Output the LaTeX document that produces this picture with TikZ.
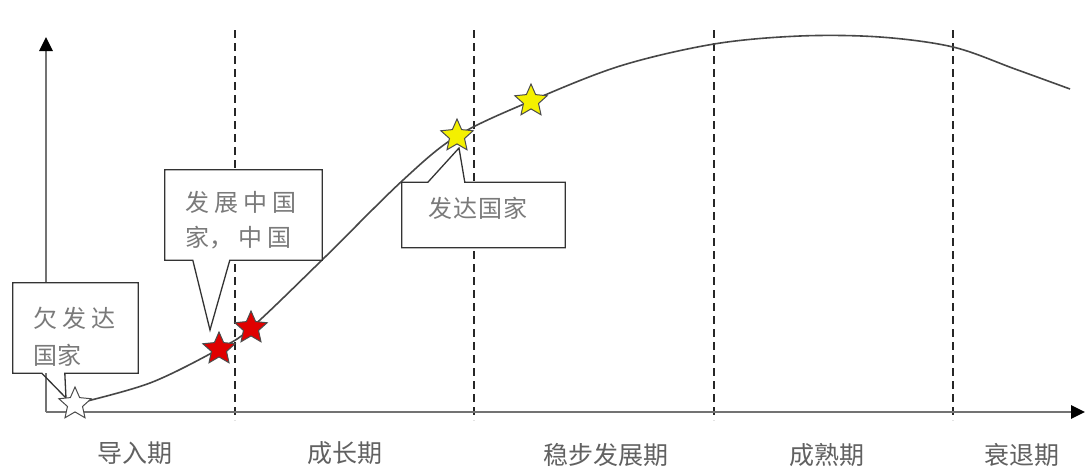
\documentclass[tikz,border=0pt]{standalone}
\usepackage{fontspec}
\newfontfamily\cjk{Noto Sans CJK SC}
\usetikzlibrary{shapes.geometric,arrows.meta,calc}
\newcommand{\cgap}[1]{\hspace{#1pt}}
\definecolor{starred}{HTML}{E00000}
\definecolor{staryellow}{HTML}{F4F000}
\begin{document}
\begin{tikzpicture}[x=1pt,y=-1pt,
  axisline/.style={draw=black!55, line width=2.6pt, -{Triangle[length=14pt,width=13pt,color=black]}},
  divider/.style={draw=black!85, line width=1.2pt, dash pattern=on 8pt off 5pt},
  curveline/.style={draw=black!72, line width=1.6pt},
  callbox/.style={fill=white, rectangle, inner sep=0pt},
  calloutline/.style={draw=black!80, line width=1.3pt, line join=miter},
  calltext/.style={text=black!52, font=\cjk\fontsize{24}{28}\selectfont, inner sep=0pt, anchor=west},
  phase/.style={text=black!62, font=\cjk\fontsize{25}{30}\selectfont, inner sep=0pt},
  starmark/.style={star, star points=5, star point ratio=2.15, minimum size=34pt, inner sep=0pt, draw=black!70, line width=1pt}]
\useasboundingbox (0,0) rectangle (1092,467);
\fill[white] (0,0) rectangle (1092,467);

% dashed dividers
\foreach \i/\xx in {1/235,2/474,3/714,4/953}{
  \coordinate (dtop\i) at (\xx,30);
  \coordinate (dbot\i) at (\xx,420);
  \draw[divider] (dtop\i) -- (dbot\i);
}

% axes
\coordinate (O) at (46,412);
\coordinate (xend) at (1085,412);
\coordinate (yend) at (46,37);
\draw[axisline] (O) -- (xend);
\draw[axisline] (O) -- (yend);

% curve
\coordinate (c1) at (75,404);
\coordinate (c2) at (150,383);
\coordinate (c3) at (219,349);
\coordinate (c4) at (251,328);
\coordinate (c5) at (320,262);
\coordinate (c6) at (402,181);
\coordinate (c7) at (457,136);
\coordinate (c8) at (531,101);
\coordinate (c9) at (620,66);
\coordinate (c10) at (714,44);
\coordinate (c11) at (800,36);
\coordinate (c12) at (880,37);
\coordinate (c13) at (953,47);
\coordinate (c14) at (1015,69);
\coordinate (c15) at (1070,89);
\draw[curveline] plot[smooth, tension=0.55] coordinates {(c1) (c2) (c3) (c4) (c5) (c6) (c7) (c8) (c9) (c10) (c11) (c12) (c13) (c14) (c15)};

% callout 1
\node[callbox, minimum width=125pt, minimum height=90pt] (box1) at (75.5,328) {};
\coordinate (tip1) at (66,398);
\draw[calloutline] (box1.north west) -- (box1.north east) -- (box1.south east)
  -- ($(box1.south west)+(52,0)$) -- (tip1) -- ($(box1.south west)+(29,0)$) -- (box1.south west) -- cycle;
\node[calltext] (t1a) at (33,318) {欠\cgap{5}发\cgap{5}达};
\node[calltext] (t1b) at (33,355) {国家};

% callout 2
\node[callbox, minimum width=157pt, minimum height=90pt] (box2) at (243.5,215) {};
\coordinate (tip2) at (210,330);
\draw[calloutline] (box2.north west) -- (box2.north east) -- (box2.south east)
  -- ($(box2.south west)+(65,0)$) -- (tip2) -- ($(box2.south west)+(28,0)$) -- (box2.south west) -- cycle;
\node[calltext] (t2a) at (185,202) {发\cgap{5}展\cgap{5}中\cgap{5}国};
\node[calltext] (t2b) at (185,238) {家，\cgap{5}中\cgap{5}国};

% callout 3
\node[callbox, minimum width=163pt, minimum height=65pt] (box3) at (483.5,215) {};
\coordinate (tip3) at (459,148);
\draw[calloutline] (box3.south west) -- (box3.north west) -- ($(box3.north west)+(26,0)$)
  -- (tip3) -- ($(box3.north west)+(63,0)$) -- (box3.north east) -- (box3.south east) -- cycle;
\node[calltext] (t3) at (428,208) {发\cgap{1}达\cgap{1}国\cgap{1}家};

% stars
\node[starmark, fill=white] (sw) at (c1) {};
\node[starmark, fill=starred] (sr1) at (c3) {};
\node[starmark, fill=starred] (sr2) at (c4) {};
\node[starmark, fill=staryellow] (sy1) at (c7) {};
\node[starmark, fill=staryellow] (sy2) at (c8) {};

% phase labels
\node[phase] (p1) at (135,453) {导入期};
\node[phase] (p2) at (345,453) {成长期};
\node[phase] (p3) at (606,455) {稳步发展期};
\node[phase] (p4) at (827,455) {成熟期};
\node[phase] (p5) at (1022,455) {衰退期};
\end{tikzpicture}
\end{document}
